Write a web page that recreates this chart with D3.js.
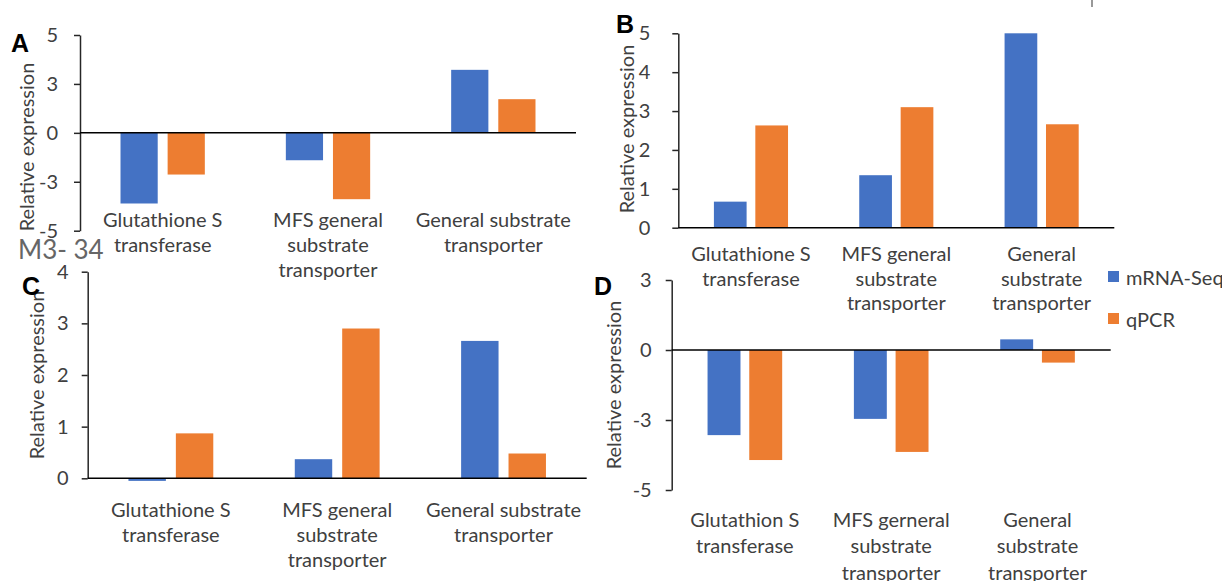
<!DOCTYPE html>
<html>
<head>
<meta charset="utf-8">
<script src="https://cdn.jsdelivr.net/npm/d3@7"></script>
<style>
  body { margin: 0; background: #fff; }
  text { font-family: Lato, "Open Sans", sans-serif; fill: #404040; }
</style>
</head>
<body>
<div id="maincontainer"></div>
<script>
var series = ["mRNA-Seq", "qPCR"];
var colors = ["#4472C4", "#ED7D31"];

// panel A
var catsA = [["Glutathione S", "transferase"], ["MFS general", "substrate", "transporter"], ["General substrate", "transporter"]];
var mrnaA = [-3.61, -1.40, 3.22];
var qpcrA = [-2.13, -3.39, 1.72];
var ticksA = [-5, -2.5, 0, 2.5, 5];

// panel B
var catsB = [["Glutathione S", "transferase"], ["MFS general", "substrate", "transporter"], ["General", "substrate", "transporter"]];
var mrnaB = [0.67, 1.35, 5.0];
var qpcrB = [2.63, 3.10, 2.66];
var ticksB = [0, 1, 2, 3, 4, 5];

// panel C
var catsC = [["Glutathione S", "transferase"], ["MFS general", "substrate", "transporter"], ["General substrate", "transporter"]];
var mrnaC = [-0.05, 0.37, 2.66];
var qpcrC = [0.87, 2.90, 0.48];
var ticksC = [0, 1, 2, 3, 4];

// panel D
var catsD = [["Glutathion S", "transferase"], ["MFS gerneral", "substrate", "transporter"], ["General", "substrate", "transporter"]];
var mrnaD = [-3.04, -2.46, 0.38];
var qpcrD = [-3.93, -3.64, -0.45];
var ticksD = [-5, -2.5, 0, 2.5];

var svg = d3.select("#maincontainer")
    .append("svg")
    .attr("width", 1222)
    .attr("height", 581);

// excel style rounding of the tick labels (2.5 -> 3)
function tickFmt(v) {
    var r = Math.round(Math.abs(v));
    return r === 0 ? "0" : (v < 0 ? "-" : "") + r;
}

function panel(p) {
    var g = svg.append("g");
    var names = p.cats.map(function(c) { return c.join(" "); });

    var x = d3.scaleBand().domain(names).range([p.x0, p.x1]);
    var band = x.bandwidth();
    var barW = band * 0.225, gap = band * 0.06;
    var xs = d3.scaleBand().domain(series)
        .range([-(barW + gap / 2), barW + gap / 2])
        .paddingInner(gap / (barW + gap));
    var y = d3.scaleLinear().domain(p.domain).range([p.yBot, p.yTop]);

    var rows = [];
    names.forEach(function(n, i) {
        rows.push({cat: n, s: 0, v: p.mrna[i]});
        rows.push({cat: n, s: 1, v: p.qpcr[i]});
    });

    g.selectAll("rect.bar")
        .data(rows)
        .enter().append("rect")
        .attr("class", "bar")
        .attr("x", function(d) { return x(d.cat) + band / 2 + xs(series[d.s]); })
        .attr("width", xs.bandwidth())
        .attr("y", function(d) { return Math.min(y(d.v), y(0)); })
        .attr("height", function(d) { return Math.abs(y(d.v) - y(0)); })
        .attr("fill", function(d) { return colors[d.s]; });

    // y axis
    var ax = g.append("g")
        .attr("transform", "translate(" + p.x0 + ",0)")
        .call(d3.axisLeft(y).tickValues(p.ticks).tickFormat(tickFmt).tickSize(6).tickSizeOuter(0));
    ax.select(".domain").attr("stroke", "#262626").attr("stroke-width", 1.5);
    ax.selectAll(".tick line").attr("stroke", "#262626").attr("stroke-width", 1.5);
    ax.selectAll(".tick text")
        .attr("x", -p.tickGap)
        .style("font-size", "20px")
        .style("font-family", "Lato")
        .attr("fill", "#333");

    // zero line
    g.append("line")
        .attr("x1", p.x0).attr("x2", p.x1)
        .attr("y1", y(0)).attr("y2", y(0))
        .attr("stroke", "#000").attr("stroke-width", 1.5);

    // category labels
    var lab = g.selectAll("text.cat")
        .data(p.cats)
        .enter().append("text")
        .attr("class", "cat")
        .attr("text-anchor", "middle")
        .style("font-size", "20px");
    lab.selectAll("tspan")
        .data(function(d, i) { return d.map(function(t) { return {t: t, i: i}; }); })
        .enter().append("tspan")
        .attr("x", function(d) { return x(names[d.i]) + band / 2; })
        .attr("y", function(d, j) { return p.labelY + j * p.lineH; })
        .text(function(d) { return d.t; });

    // axis title
    g.append("text")
        .attr("transform", "translate(" + p.titleX + "," + p.titleY + ") rotate(-90)")
        .attr("text-anchor", "middle")
        .attr("dy", "0.35em")
        .style("font-size", "20px")
        .attr("fill", "#333")
        .text("Relative expression");

    // panel letter
    g.append("text")
        .attr("x", p.lx).attr("y", p.ly)
        .style("font-family", "'Liberation Sans', Arial, sans-serif")
        .style("font-weight", "bold")
        .style("font-size", "25px")
        .style("fill", "#000")
        .text(p.letter);
}

panel({letter: "A", lx: 11, ly: 52, cats: catsA, mrna: mrnaA, qpcr: qpcrA, ticks: ticksA, domain: [-5, 5],
    x0: 80, x1: 576, yTop: 35, yBot: 230.7, tickGap: 22, labelY: 226.7, lineH: 25, titleX: 26.5, titleY: 147});
panel({letter: "B", lx: 616, ly: 33, cats: catsB, mrna: mrnaB, qpcr: qpcrB, ticks: ticksB, domain: [0, 5],
    x0: 678.3, x1: 1114.3, yTop: 33.3, yBot: 227.7, tickGap: 28, labelY: 261, lineH: 24.5, titleX: 627, titleY: 129});
panel({letter: "C", lx: 22, ly: 295, cats: catsC, mrna: mrnaC, qpcr: qpcrC, ticks: ticksC, domain: [0, 4],
    x0: 87.7, x1: 586.7, yTop: 271.7, yBot: 478.3, tickGap: 19, labelY: 516.7, lineH: 25, titleX: 37, titleY: 375});
panel({letter: "D", lx: 594, ly: 295, cats: catsD, mrna: mrnaD, qpcr: qpcrD, ticks: ticksD, domain: [-5, 2.5],
    x0: 671.7, x1: 1110.7, yTop: 280, yBot: 490, tickGap: 20, labelY: 526.7, lineH: 26.5, titleX: 614, titleY: 385});

// legend
var leg = svg.selectAll("g.leg")
    .data(series)
    .enter().append("g")
    .attr("class", "leg")
    .attr("transform", function(d, i) { return "translate(1108," + (271 + i * 42) + ")"; });
leg.append("rect")
    .attr("width", 11).attr("height", 11)
    .attr("fill", function(d, i) { return colors[i]; });
leg.append("text")
    .attr("x", 18).attr("y", 14)
    .style("font-size", "20px")
    .text(function(d) { return d; });

// stray text and mark from the source figure
svg.append("text")
    .attr("x", 18).attr("y", 259)
    .style("font-size", "26px")
    .style("fill", "#666")
    .text("M3- 34");
svg.append("line")
    .attr("x1", 1092).attr("x2", 1092)
    .attr("y1", 0).attr("y2", 7)
    .attr("stroke", "#777").attr("stroke-width", 1.5);
</script>
</body>
</html>
